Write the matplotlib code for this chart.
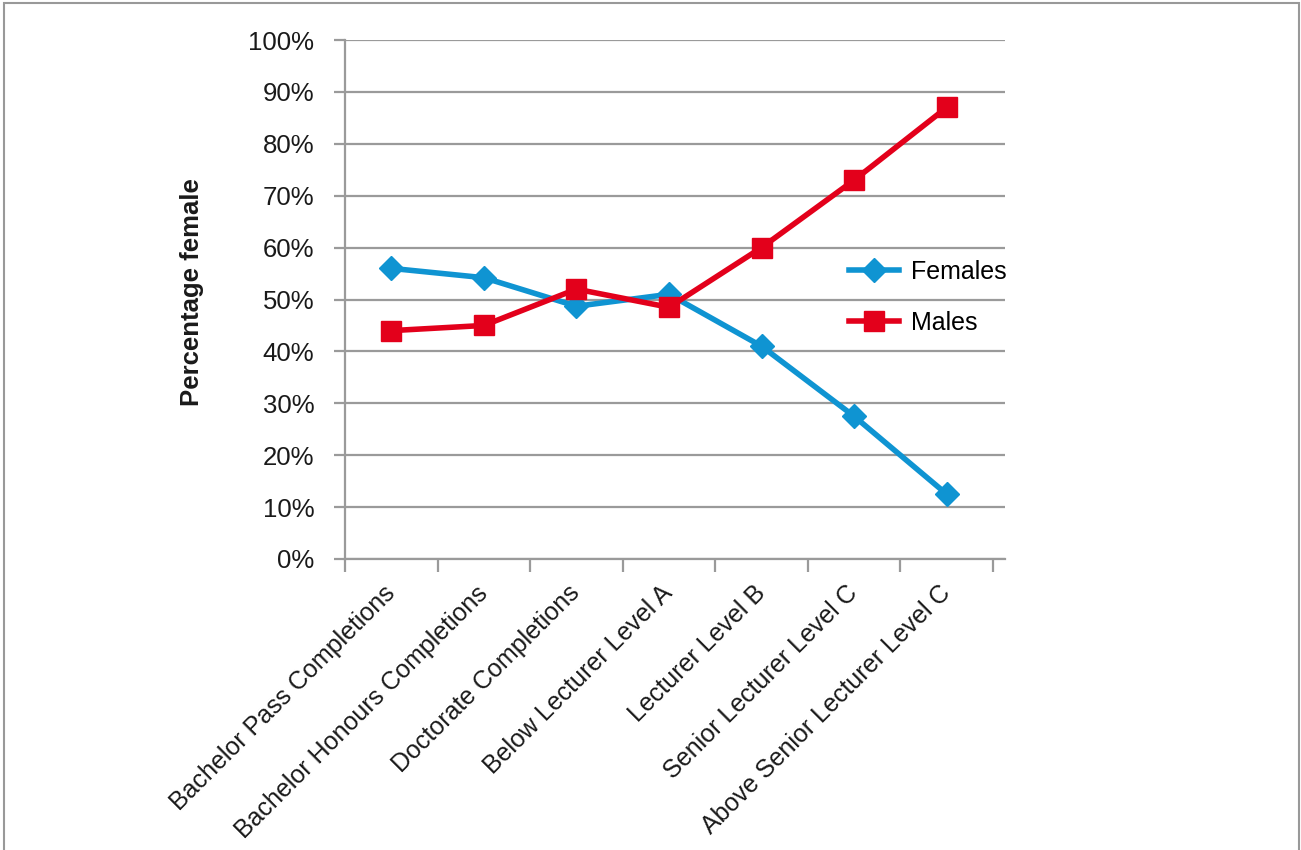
import matplotlib
matplotlib.use("Agg")
import matplotlib.pyplot as plt
from matplotlib.patches import Rectangle
import numpy as np

# data
categories = ["Bachelor Pass Completions", "Bachelor Honours Completions",
              "Doctorate Completions", "Below Lecturer Level A",
              "Lecturer Level B", "Senior Lecturer Level C",
              "Above Senior Lecturer Level C"]
females = [56.0, 54.2, 48.7, 51.0, 41.0, 27.5, 12.5]
males = [44.0, 45.0, 52.0, 48.5, 60.0, 73.0, 87.0]
yticks = list(range(0, 101, 10))

plt.rcParams['font.family'] = ['Liberation Sans', 'DejaVu Sans']

BLUE = '#0f94d2'
RED = '#e3001b'
GREY = '#9a9a9a'
TXT = '#1a1a1a'

fig = plt.figure(figsize=(13.01, 8.5), dpi=100)
ax = fig.add_axes([345 / 1301, 1 - 559 / 850, 660 / 1301, 519 / 850])

x = np.arange(len(categories))
ax.plot(x, females, color=BLUE, lw=4, marker='D', ms=12, label='Females', zorder=3)
ax.plot(x, males, color=RED, lw=4, marker='s', ms=15, label='Males', zorder=4)

ax.set_xlim(-0.5, 6.63)
ax.set_ylim(0, 100)
ax.set_yticks(yticks)
ax.set_yticklabels([f"{v}%" for v in yticks], fontsize=18.5, color=TXT)
ax.yaxis.grid(True, color=GREY, lw=1.6)
ax.tick_params(axis='y', length=8, width=1.6, color=GREY, pad=14)
ax.set_axisbelow(True)

# category boundary ticks plus labels under the points
ax.set_xticks(np.arange(-0.5, 7.0, 1.0))
ax.set_xticklabels([])
ax.set_xticks(x, minor=True)
ax.set_xticklabels(categories, minor=True, rotation=45, ha='right', va='center',
                   rotation_mode='anchor', fontsize=18, color=TXT)
ax.tick_params(axis='x', which='major', length=9, width=1.6, color=GREY, direction='out')
ax.tick_params(axis='x', which='minor', length=0, pad=22)

for s in ['top', 'right']:
    ax.spines[s].set_visible(False)
for s in ['left', 'bottom']:
    ax.spines[s].set_color(GREY)
    ax.spines[s].set_linewidth(1.6)

ax.set_ylabel("Percentage female", fontsize=18.5, fontweight='bold', color=TXT)
ax.yaxis.set_label_coords((204 - 345) / 660, 0.514)

ax.legend(loc='upper left', bbox_to_anchor=(0.73, 0.62), frameon=False,
          fontsize=18, handlelength=2.0, labelspacing=1.1, handletextpad=0.45)

fig.patches.append(Rectangle((4 / 1301, -0.02), 1295 / 1301, 1.02 - 3 / 850,
                             transform=fig.transFigure, fill=False,
                             edgecolor='#999999', lw=1.5))

fig.savefig("out.png", dpi=100)
